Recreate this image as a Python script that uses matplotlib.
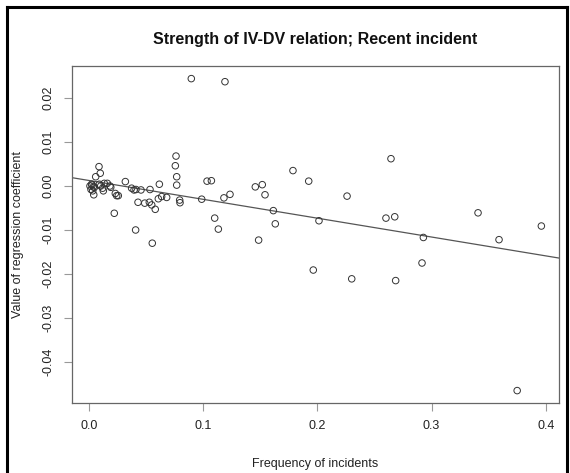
import numpy as np
import matplotlib
matplotlib.use("Agg")
import matplotlib.pyplot as plt
from matplotlib.lines import Line2D

plt.rcParams['font.family'] = ['Liberation Sans', 'DejaVu Sans']

# Data
freq = [0.0006, 0.0020, 0.0035, 0.0015, 0.0030, 0.0039, 0.0025, 0.0045, 0.0056, 0.0085,
        0.0096, 0.0088, 0.0100, 0.0117, 0.0123, 0.0131, 0.0158, 0.0181, 0.0188, 0.0228,
        0.0240, 0.0254, 0.0219, 0.0316, 0.0371, 0.0392, 0.0409, 0.0453, 0.0532, 0.0427,
        0.0486, 0.0526, 0.0547, 0.0578, 0.0406, 0.0552, 0.0614, 0.0605, 0.0634, 0.0678,
        0.0754, 0.0760, 0.0766, 0.0766, 0.0792, 0.0795, 0.0894, 0.0985, 0.1032, 0.1070,
        0.1099, 0.1131, 0.1180, 0.1189, 0.1233, 0.1455, 0.1516, 0.1540, 0.1484, 0.1613,
        0.1630, 0.1785, 0.1923, 0.1963, 0.2013, 0.2259, 0.2300, 0.2600, 0.2644, 0.2677,
        0.2685, 0.2916, 0.2928, 0.3407, 0.3591, 0.3750, 0.3962]
coef = [0.0000, 0.0004, -0.0002, -0.0008, -0.0011, -0.0020, 0.0002, -0.0003, 0.0021, 0.0044,
        0.0029, 0.0004, 0.0000, -0.0005, -0.0011, 0.0006, 0.0006, 0.0000, -0.0003, -0.0017,
        -0.0022, -0.0022, -0.0062, 0.0010, -0.0005, -0.0009, -0.0008, -0.0009, -0.0008, -0.0037,
        -0.0039, -0.0037, -0.0043, -0.0053, -0.0100, -0.0130, 0.0004, -0.0029, -0.0024, -0.0026,
        0.0046, 0.0068, 0.0021, 0.0002, -0.0032, -0.0038, 0.0244, -0.0030, 0.0011, 0.0012,
        -0.0073, -0.0098, -0.0027, 0.0237, -0.0019, -0.0002, 0.0003, -0.0020, -0.0123, -0.0056,
        -0.0086, 0.0035, 0.0011, -0.0191, -0.0079, -0.0023, -0.0211, -0.0073, 0.0062, -0.0070,
        -0.0215, -0.0175, -0.0117, -0.0061, -0.0122, -0.0465, -0.0091]

# fitted line (intercept, slope)
intercept = 0.00124
slope = -0.0428

x_ticks = [0.0, 0.1, 0.2, 0.3, 0.4]
x_labels = ["0.0", "0.1", "0.2", "0.3", "0.4"]
y_ticks = [-0.04, -0.03, -0.02, -0.01, 0.0, 0.01, 0.02]
y_labels = ["-0.04", "-0.03", "-0.02", "-0.01", "0.00", "0.01", "0.02"]

fig = plt.figure(figsize=(5.7, 4.73), dpi=100)
ax = fig.add_axes([72/570, 1 - 403/473, 487/570, 337/473])

ax.scatter(freq, coef, s=22, facecolors='none', edgecolors='#333333', linewidths=0.7, zorder=3)
ax.axline((0, intercept), slope=slope, color='#555555', lw=0.9, zorder=2)

ax.set_xlim(-0.01516, 0.41166)
ax.set_ylim(-0.04932, 0.02727)

ax.set_xticks(x_ticks)
ax.set_xticklabels(x_labels)
ax.set_yticks(y_ticks)
ax.set_yticklabels(y_labels, rotation=90, va='center')
ax.tick_params(axis='both', direction='out', length=5.5, width=0.8, color='#999999',
               labelsize=9, labelcolor='#222222', pad=7)

for sp in ax.spines.values():
    sp.set_color('#666666')
    sp.set_linewidth(0.9)

ax.set_xlabel("Frequency of incidents", fontsize=9, color='#222222')
ax.xaxis.set_label_coords(0.5, -0.18)
ax.xaxis.label.set_va('center')
ax.set_ylabel("Value of regression coefficient", fontsize=9, color='#222222')
ax.yaxis.set_label_coords(-0.11, 0.5)
ax.yaxis.label.set_va('center')

ax.text(0.5, 1.08, "Strength of IV-DV relation; Recent incident", transform=ax.transAxes,
        ha='center', va='center', fontsize=11.5, fontweight='bold', color='#111111')

# outer black frame of the screenshot
fig.add_artist(Line2D([7/570, 7/570], [0, 1 - 7/473], color='black', lw=2.2))
fig.add_artist(Line2D([7/570, 567/570], [1 - 7/473, 1 - 7/473], color='black', lw=2.2))
fig.add_artist(Line2D([567/570, 567/570], [0, 1 - 7/473], color='black', lw=2.2))

fig.savefig("out.png", dpi=100)
